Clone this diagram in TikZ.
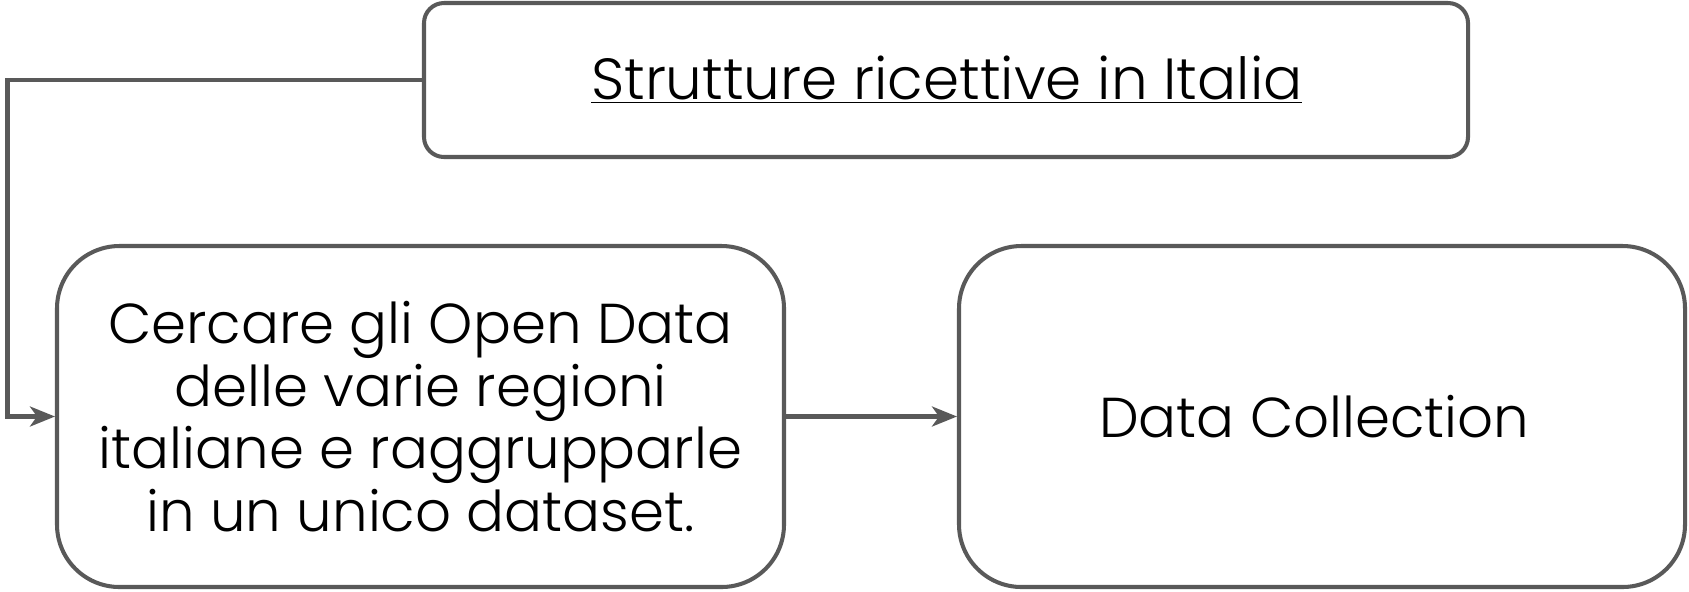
\documentclass[tikz,border=0pt]{standalone}
\usepackage{fontspec}
\setmainfont{Poppins}[UprightFont=* Light]
\definecolor{edgeGray}{RGB}{89, 89, 89}
\usepackage{tikz}
\usetikzlibrary{positioning,calc,arrows.meta}

\begin{document}
\begin{tikzpicture}[
                stage/.style={draw=edgeGray,line width=2.3pt,fill=white,align=center,
                              font=\fontsize{32}{35.6}\selectfont,inner sep=0pt},
                flow/.style={draw=edgeGray,line width=2.3pt,
                             -{Stealth[length=0.5cm,width=0.4cm,inset=0.14cm]}}
            ]
                \useasboundingbox (0,0) rectangle (33.78,-11.82);
                \node[stage,font=\fontsize{33}{35.6}\selectfont,rounded corners=0.4cm,
                      minimum width=20.88cm,minimum height=3.08cm] (topic) at (18.92,-1.6) {
                    \hspace*{0.35cm}\underline{Strutture ricettive in Italia}
                };
                \node[stage,rounded corners=1.25cm,minimum width=14.54cm,minimum height=6.82cm] (search) at (8.41,-8.33) {
                    Cercare gli Open Data\\
                    delle varie regioni\\
                    italiane e raggrupparle\\
                    in un unico dataset.
                };
                \node[stage,rounded corners=1.25cm,minimum width=14.52cm,minimum height=6.82cm] (collect) at (26.44,-8.33) {
                    Data Collection
                };
                \coordinate (turn) at (0.15,-1.6);
                \draw[flow] (topic.west) -- (turn) |- (search.west);
                \draw[flow] (search) -- (collect);
            \end{tikzpicture}
\end{document}
